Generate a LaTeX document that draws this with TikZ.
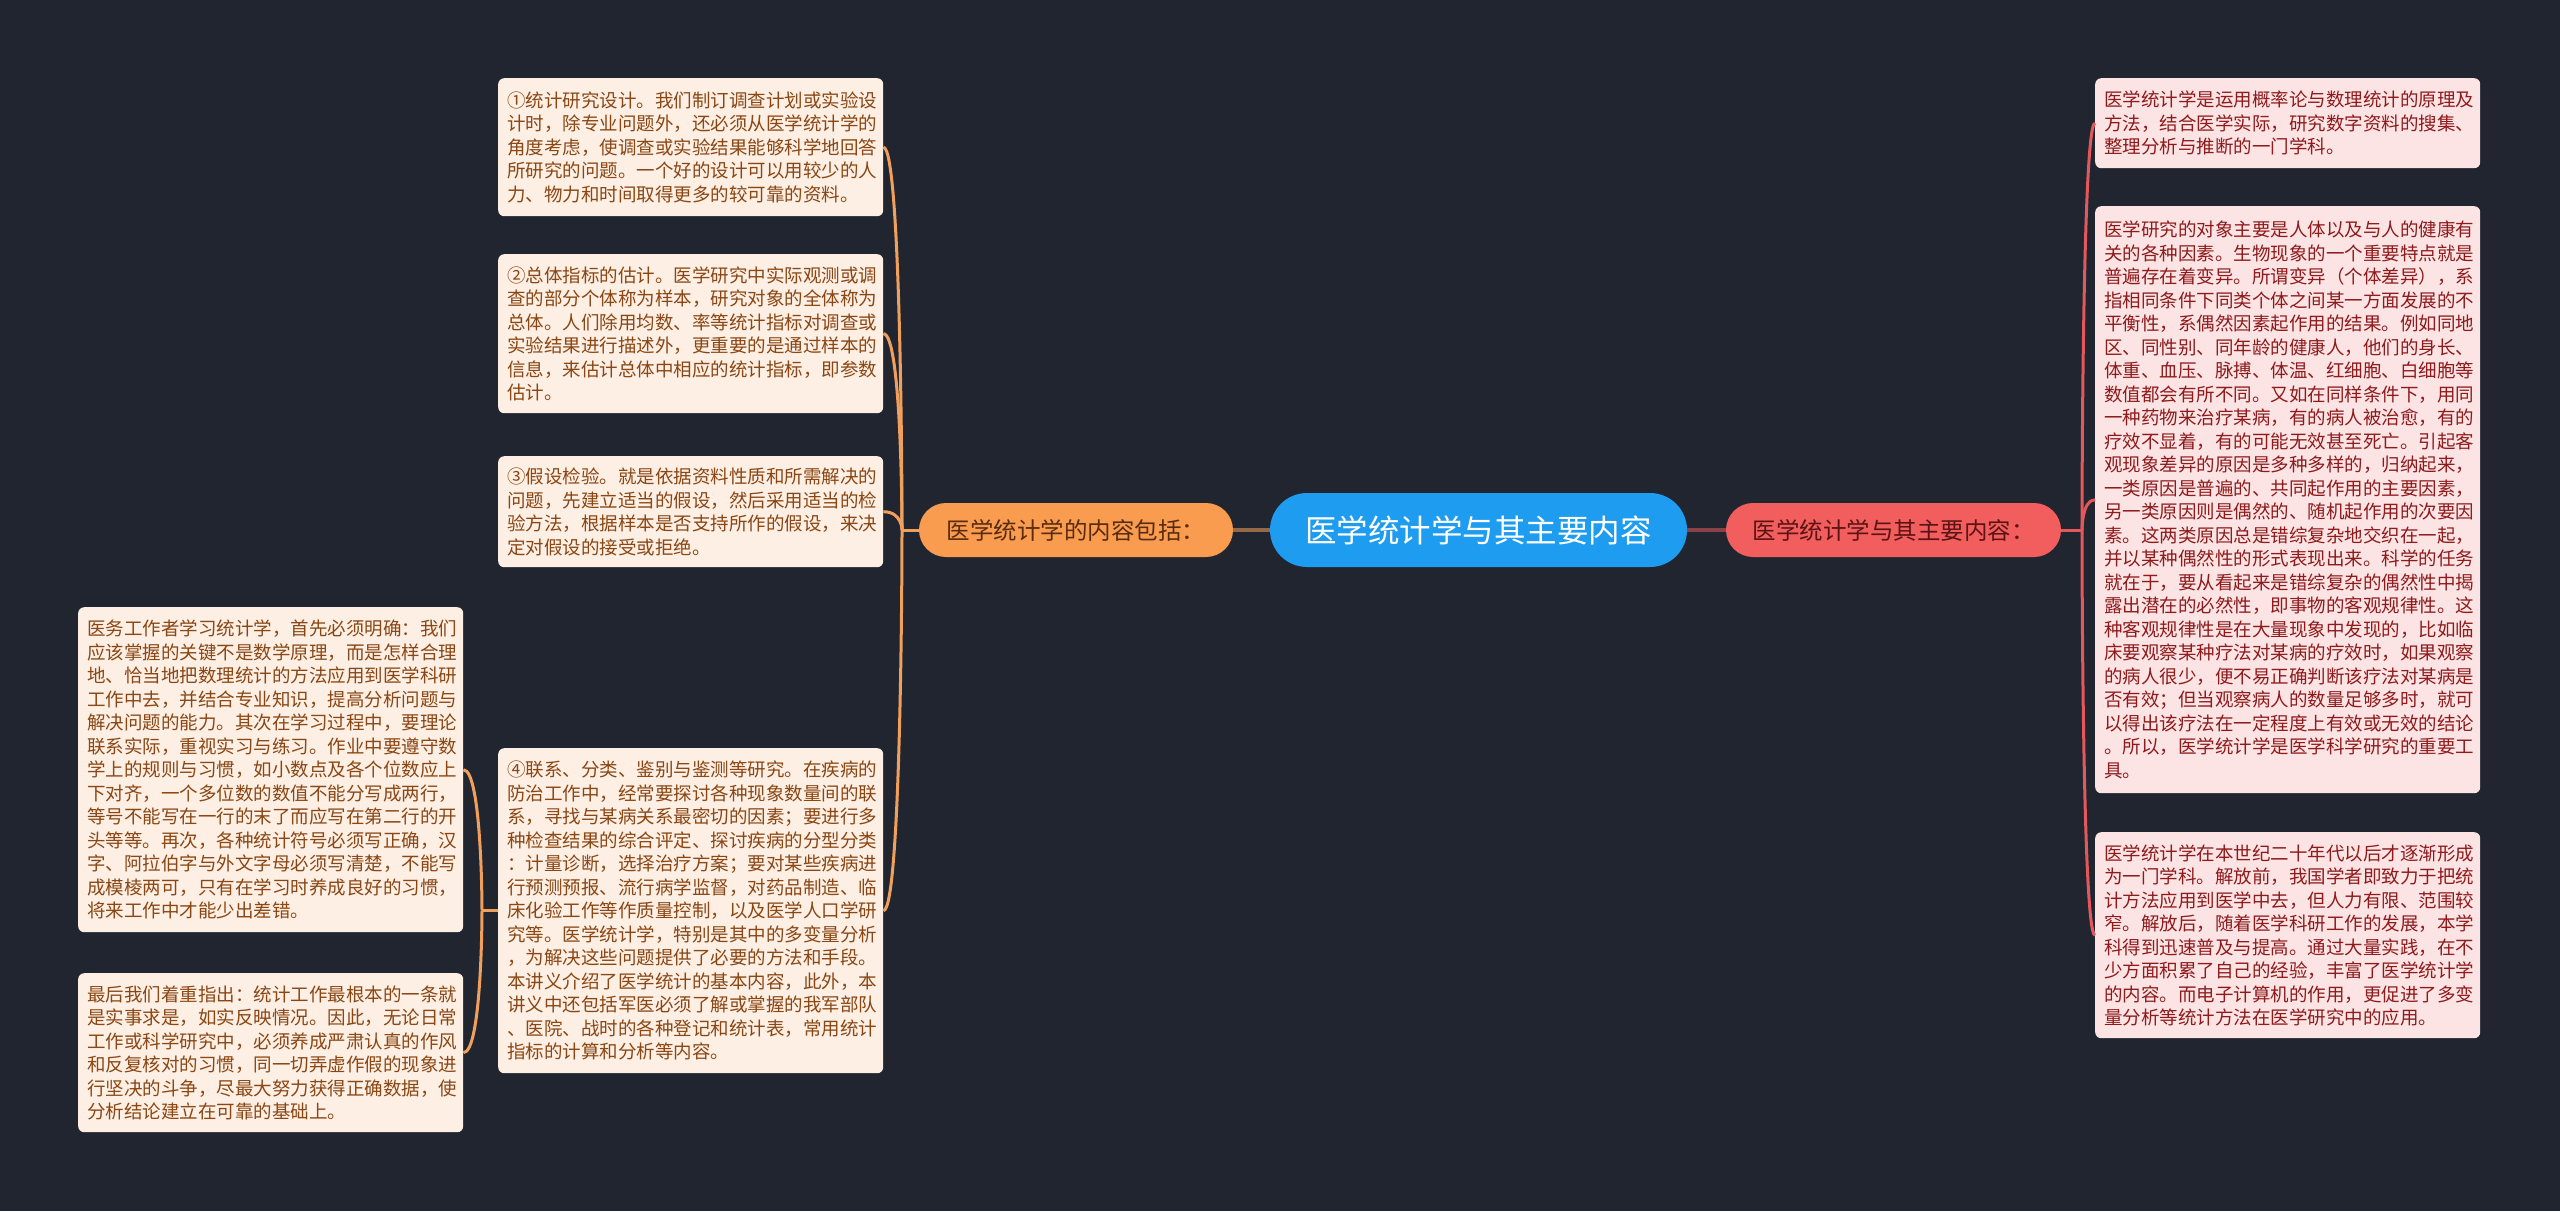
\documentclass[tikz,border=0pt]{standalone}
\usepackage{fontspec}
\newfontfamily\cjk{Noto Sans CJK SC}
\definecolor{bg}{HTML}{212530}
\definecolor{leafLfill}{HTML}{FDEFE4}
\definecolor{leafLtext}{HTML}{8A4613}
\definecolor{leafRfill}{HTML}{FCE4E4}
\definecolor{leafRtext}{HTML}{8E1A1C}
\definecolor{subOfill}{HTML}{F99C50}
\definecolor{subOtext}{HTML}{5A2C0E}
\definecolor{subRfill}{HTML}{F15E5D}
\definecolor{subRtext}{HTML}{5A1414}
\definecolor{cfill}{HTML}{1E9CF0}
\definecolor{lineO}{HTML}{F0A05C}
\definecolor{lineR}{HTML}{E2585C}
\tikzset{
  leafbase/.style={draw=none, rounded corners=6pt, anchor=north west, text width=367pt,
    inner xsep=9pt, inner ysep=0pt, align=left, font=\cjk\fontsize{18.5}{23.5}\selectfont},
  leafL/.style={leafbase, fill=leafLfill, text=leafLtext},
  leafR/.style={leafbase, fill=leafRfill, text=leafRtext},
  subO/.style={fill=subOfill, text=subOtext, minimum width=314pt, minimum height=54pt,
    rounded corners=27pt, inner sep=0pt, font=\cjk\fontsize{23.5}{27}\selectfont},
  subR/.style={fill=subRfill, text=subRtext, minimum width=335pt, minimum height=54pt,
    rounded corners=27pt, inner sep=0pt, font=\cjk\fontsize{23.5}{27}\selectfont},
  centre/.style={fill=cfill, text=white, minimum width=417pt, minimum height=74pt,
    rounded corners=37pt, inner sep=0pt, font=\cjk\fontsize{31.5}{36}\selectfont},
  conO/.style={draw=lineO, line width=3pt},
  conR/.style={draw=lineR, line width=3pt},
  linkO/.style={draw=lineO!55!bg, line width=4pt},
  linkR/.style={draw=lineR!55!bg, line width=4pt},
}
\begin{document}
\begin{tikzpicture}[x=1pt, y=-1pt]
\useasboundingbox (0,0) rectangle (2560,1211);
\fill[bg] (0,0) rectangle (2560,1211);

% main nodes
\node[centre] (c) at (1478.5,530) {医学统计学与其主要内容};
\node[subO] (lsub) at (1076,530) {医学统计学的内容包括：};
\node[subR] (rsub) at (1893.5,530) {医学统计学与其主要内容：};

% left leaves
\node[leafL, minimum height=138pt] (b1) at (498,78) {%
①统计研究设计。我们制订调查计划或实验设\\
计时，除专业问题外，还必须从医学统计学的\\
角度考虑，使调查或实验结果能够科学地回答\\
所研究的问题。一个好的设计可以用较少的人\\
力、物力和时间取得更多的较可靠的资料。};

\node[leafL, minimum height=159pt] (b2) at (498,254) {%
②总体指标的估计。医学研究中实际观测或调\\
查的部分个体称为样本，研究对象的全体称为\\
总体。人们除用均数、率等统计指标对调查或\\
实验结果进行描述外，更重要的是通过样本的\\
信息，来估计总体中相应的统计指标，即参数\\
估计。};

\node[leafL, minimum height=111pt] (b3) at (498,456) {%
③假设检验。就是依据资料性质和所需解决的\\
问题，先建立适当的假设，然后采用适当的检\\
验方法，根据样本是否支持所作的假设，来决\\
定对假设的接受或拒绝。};

\node[leafL, minimum height=325pt] (b4) at (498,748) {%
④联系、分类、鉴别与鉴测等研究。在疾病的\\
防治工作中，经常要探讨各种现象数量间的联\\
系，寻找与某病关系最密切的因素；要进行多\\
种检查结果的综合评定、探讨疾病的分型分类\\
：计量诊断，选择治疗方案；要对某些疾病进\\
行预测预报、流行病学监督，对药品制造、临\\
床化验工作等作质量控制，以及医学人口学研\\
究等。医学统计学，特别是其中的多变量分析\\
，为解决这些问题提供了必要的方法和手段。\\
本讲义介绍了医学统计的基本内容，此外，本\\
讲义中还包括军医必须了解或掌握的我军部队\\
、医院、战时的各种登记和统计表，常用统计\\
指标的计算和分析等内容。};

\node[leafL, minimum height=325pt] (b5) at (78,607) {%
医务工作者学习统计学，首先必须明确：我们\\
应该掌握的关键不是数学原理，而是怎样合理\\
地、恰当地把数理统计的方法应用到医学科研\\
工作中去，并结合专业知识，提高分析问题与\\
解决问题的能力。其次在学习过程中，要理论\\
联系实际，重视实习与练习。作业中要遵守数\\
学上的规则与习惯，如小数点及各个位数应上\\
下对齐，一个多位数的数值不能分写成两行，\\
等号不能写在一行的末了而应写在第二行的开\\
头等等。再次，各种统计符号必须写正确，汉\\
字、阿拉伯字与外文字母必须写清楚，不能写\\
成模棱两可，只有在学习时养成良好的习惯，\\
将来工作中才能少出差错。};

\node[leafL, minimum height=159pt] (b6) at (78,973) {%
最后我们着重指出：统计工作最根本的一条就\\
是实事求是，如实反映情况。因此，无论日常\\
工作或科学研究中，必须养成严肃认真的作风\\
和反复核对的习惯，同一切弄虚作假的现象进\\
行坚决的斗争，尽最大努力获得正确数据，使\\
分析结论建立在可靠的基础上。};

% right leaves
\node[leafR, minimum height=90pt] (r1) at (2095,78) {%
医学统计学是运用概率论与数理统计的原理及\\
方法，结合医学实际，研究数字资料的搜集、\\
整理分析与推断的一门学科。};

\node[leafR, minimum height=587pt] (r2) at (2095,206) {%
医学研究的对象主要是人体以及与人的健康有\\
关的各种因素。生物现象的一个重要特点就是\\
普遍存在着变异。所谓变异（个体差异），系\\
指相同条件下同类个体之间某一方面发展的不\\
平衡性，系偶然因素起作用的结果。例如同地\\
区、同性别、同年龄的健康人，他们的身长、\\
体重、血压、脉搏、体温、红细胞、白细胞等\\
数值都会有所不同。又如在同样条件下，用同\\
一种药物来治疗某病，有的病人被治愈，有的\\
疗效不显着，有的可能无效甚至死亡。引起客\\
观现象差异的原因是多种多样的，归纳起来，\\
一类原因是普遍的、共同起作用的主要因素，\\
另一类原因则是偶然的、随机起作用的次要因\\
素。这两类原因总是错综复杂地交织在一起，\\
并以某种偶然性的形式表现出来。科学的任务\\
就在于，要从看起来是错综复杂的偶然性中揭\\
露出潜在的必然性，即事物的客观规律性。这\\
种客观规律性是在大量现象中发现的，比如临\\
床要观察某种疗法对某病的疗效时，如果观察\\
的病人很少，便不易正确判断该疗法对某病是\\
否有效；但当观察病人的数量足够多时，就可\\
以得出该疗法在一定程度上有效或无效的结论\\
。所以，医学统计学是医学科学研究的重要工\\
具。};

\node[leafR, minimum height=206pt] (r3) at (2095,832) {%
医学统计学在本世纪二十年代以后才逐渐形成\\
为一门学科。解放前，我国学者即致力于把统\\
计方法应用到医学中去，但人力有限、范围较\\
窄。解放后，随着医学科研工作的发展，本学\\
科得到迅速普及与提高。通过大量实践，在不\\
少方面积累了自己的经验，丰富了医学统计学\\
的内容。而电子计算机的作用，更促进了多变\\
量分析等统计方法在医学研究中的应用。};

% connectors centre - subs
\draw[linkO] (c.west) -- (lsub.east);
\draw[linkR] (c.east) -- (rsub.west);

% left trunk
\coordinate (lt) at (902,530);
\draw[conO] (lsub.west) -- (lt);
\foreach \b in {b1,b2,b3,b4}{
  \draw[conO] (\b.east) .. controls (\b.east -| lt) and (lt) .. (lt);
}
% far-left trunk
\coordinate (ft) at (482,0 |- b4.west);
\draw[conO] (b4.west) -- (ft);
\foreach \b in {b5,b6}{
  \draw[conO] (\b.east) .. controls (\b.east -| ft) and (ft) .. (ft);
}
% right trunk
\coordinate (rt) at (2082,530);
\draw[conR] (rsub.east) -- (rt);
\foreach \b in {r1,r2,r3}{
  \draw[conR] (\b.west) .. controls (\b.west -| rt) and (rt) .. (rt);
}
\end{tikzpicture}
\end{document}
